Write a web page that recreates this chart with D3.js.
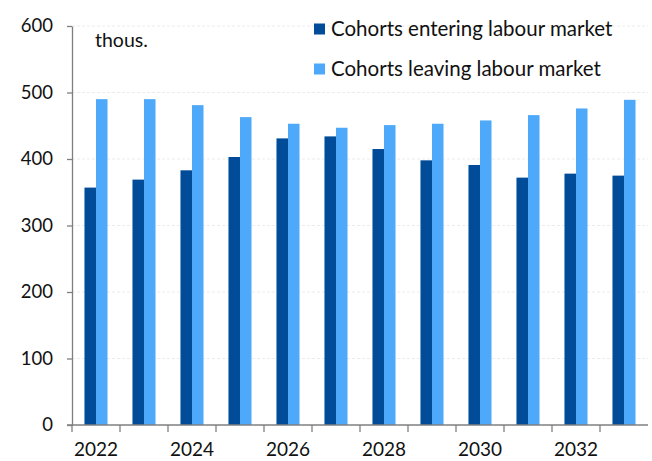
<!DOCTYPE html>
<html>
<head>
<meta charset="utf-8">
<script src="https://cdn.jsdelivr.net/npm/d3@7"></script>
<style>
  body { margin: 0; background: #fff; }
  svg { display: block; font-family: Lato, "Open Sans", sans-serif; }
</style>
</head>
<body>
<div id="chart"></div>
<script>
// data
const years = ["2022", "2023", "2024", "2025", "2026", "2027", "2028", "2029", "2030", "2031", "2032", "2033"];
const entering = [357, 369, 383, 403, 431, 434, 415, 398, 391, 372, 378, 375];
const leaving = [490, 490, 481, 463, 453, 447, 451, 453, 458, 466, 476, 489];
const seriesNames = ["Cohorts entering labour market", "Cohorts leaving labour market"];
const yTicks = [0, 100, 200, 300, 400, 500, 600];
const xLabels = ["2022", "2024", "2026", "2028", "2030", "2032"];

const W = 652, H = 461;
const margin = { top: 26, left: 72, right: 4, bottom: 36 };

const svg = d3.select("#chart").append("svg")
  .attr("width", W)
  .attr("height", H);

const colors = d3.scaleOrdinal().domain(seriesNames).range(["#004c99", "#4fa9fa"]);

const x0 = d3.scaleBand()
  .domain(years)
  .range([margin.left, W - margin.right]);

const x1 = d3.scaleBand()
  .domain(seriesNames)
  .range([x0.bandwidth() * 0.26, x0.bandwidth() * 0.74]);

const y = d3.scaleLinear()
  .domain([0, 600])
  .range([H - margin.bottom, margin.top]);

// faint gridlines
svg.append("g")
  .selectAll("line")
  .data(yTicks.slice(1))
  .join("line")
  .attr("x1", margin.left)
  .attr("x2", W - margin.right)
  .attr("y1", d => y(d))
  .attr("y2", d => y(d))
  .attr("stroke", "#ececec")
  .attr("stroke-dasharray", "3,2");

// bars
const rows = years.map((yr, i) => ({ year: yr, values: [entering[i], leaving[i]] }));
svg.append("g")
  .selectAll("g")
  .data(rows)
  .join("g")
  .attr("transform", d => `translate(${x0(d.year)},0)`)
  .selectAll("rect")
  .data(d => seriesNames.map((key, j) => ({ key, value: d.values[j] })))
  .join("rect")
  .attr("x", d => x1(d.key))
  .attr("y", d => y(d.value))
  .attr("width", x1.bandwidth())
  .attr("height", d => y(0) - y(d.value))
  .attr("fill", d => colors(d.key));

// y axis
const yAxis = svg.append("g")
  .attr("transform", `translate(${margin.left},0)`)
  .call(d3.axisLeft(y).tickValues(yTicks).tickSize(5).tickSizeOuter(0).tickPadding(14));
yAxis.select(".domain").attr("stroke", "#7f7f7f").attr("stroke-width", 1.3);
yAxis.selectAll(".tick line").attr("stroke", "#7f7f7f").attr("stroke-width", 1.3);
yAxis.selectAll("text").attr("font-size", 18.5).attr("fill", "#111").attr("font-family", "Lato");

// x axis: ticks at category boundaries, labels every other year
const xAxis = svg.append("g").attr("transform", `translate(0,${y(0)})`);
xAxis.append("line")
  .attr("x1", margin.left - 5)
  .attr("x2", W - margin.right)
  .attr("stroke", "#7f7f7f")
  .attr("stroke-width", 1.3);
xAxis.selectAll(".xt")
  .data(years)
  .join("line")
  .attr("class", "xt")
  .attr("x1", d => x0(d))
  .attr("x2", d => x0(d))
  .attr("y2", 7)
  .attr("stroke", "#7f7f7f")
  .attr("stroke-width", 1.3);
xAxis.selectAll("text")
  .data(xLabels)
  .join("text")
  .attr("x", d => x0(d) + x0.bandwidth() / 2)
  .attr("y", 31)
  .attr("text-anchor", "middle")
  .attr("font-size", 19)
  .attr("fill", "#111")
  .text(d => d);

// unit label
svg.append("text")
  .attr("x", 95)
  .attr("y", 47)
  .attr("font-size", 19.5)
  .attr("fill", "#111")
  .text("thous.");

// legend
const legend = svg.append("g")
  .attr("transform", "translate(314,0)")
  .selectAll("g")
  .data(seriesNames)
  .join("g")
  .attr("transform", (d, i) => `translate(0,${29 + i * 40})`);
legend.append("rect")
  .attr("y", -5.5)
  .attr("width", 11)
  .attr("height", 11)
  .attr("fill", colors);
legend.append("text")
  .attr("x", 17)
  .attr("y", 7)
  .attr("font-size", 20.5)
  .attr("fill", "#111")
  .text(d => d);
</script>
</body>
</html>
